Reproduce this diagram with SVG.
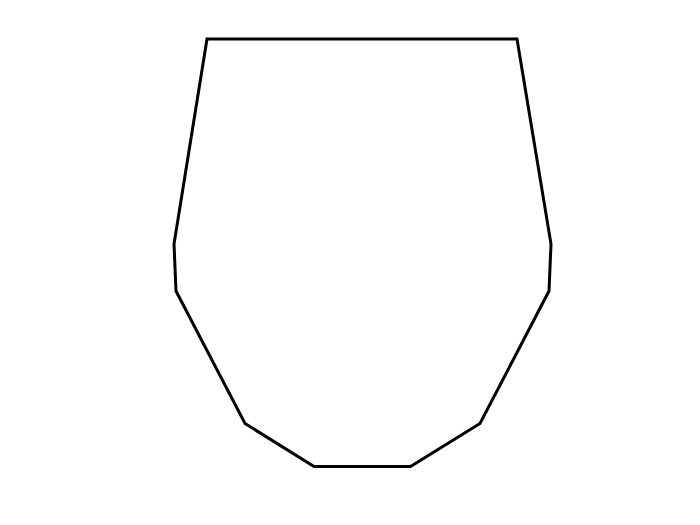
<svg xmlns="http://www.w3.org/2000/svg" width="700" height="525" viewBox="0 0 700 525">
<style>.s{fill:none;stroke:#000;stroke-width:3;stroke-linejoin:miter}</style>
<rect width="700" height="525" fill="#fff"/>
<g id="shape">
<polygon class="s" points="207,39 517,39 551,244 549,291 480,423.5 410.5,466.5 314,466.5 245,423.5 176,291 174,244"/>
</g>
</svg>
